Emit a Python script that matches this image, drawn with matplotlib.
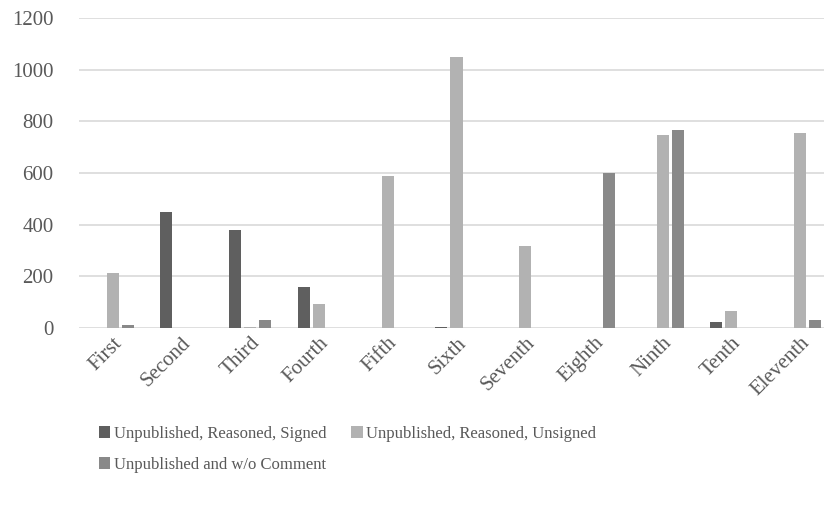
import numpy as np
import matplotlib.pyplot as plt

# Kategorien und Werte
categories = ["First", "Second", "Third", "Fourth", "Fifth", "Sixth",
              "Seventh", "Eighth", "Ninth", "Tenth", "Eleventh"]
signed = [0, 450, 380, 160, 0, 5, 0, 0, 0, 25, 0]
unsigned = [213, 0, 3, 92, 590, 1048, 318, 0, 748, 66, 755]
no_comment = [12, 0, 32, 0, 0, 0, 0, 600, 768, 0, 32]

series_names = ["Unpublished, Reasoned, Signed",
                "Unpublished, Reasoned, Unsigned",
                "Unpublished and w/o Comment"]
colors = ["#5f5f5f", "#b2b2b2", "#898989"]
text_color = "#595959"

plt.rcParams['font.family'] = ['Liberation Serif', 'DejaVu Serif']

fig = plt.figure(figsize=(8.24, 5.16), dpi=100)
ax = fig.add_axes([78.5 / 824, 1 - 328 / 516, 756 / 824, 310 / 516])

x = np.arange(len(categories))
width = 0.175
offset = 0.22
handles = []
for i, (vals, name) in enumerate(zip([signed, unsigned, no_comment], series_names)):
    h = ax.bar(x + (i - 1) * offset, vals, width, color=colors[i], label=name, zorder=3)
    handles.append(h)

ax.set_xlim(-0.5, len(categories) - 0.5)
ax.set_ylim(0, 1200)
ax.set_yticks(range(0, 1201, 200))
ax.grid(axis='y', color="#d9d9d9", linewidth=1.2, zorder=0)
for s in ax.spines.values():
    s.set_visible(False)
ax.tick_params(axis='both', length=0, labelsize=15, labelcolor=text_color)
ax.tick_params(axis='y', pad=18)
ax.set_xticks(x)
ax.set_xticklabels(categories, rotation=45, ha='right', rotation_mode='anchor')
ax.tick_params(axis='x', pad=4)

# Legende zeilenweise anordnen
fig.legend([handles[0], handles[2], handles[1]],
           [series_names[0], series_names[2], series_names[1]],
           ncol=2, loc='upper left', bbox_to_anchor=(92 / 824, 1 - 419 / 516),
           frameon=False, fontsize=12, labelcolor=text_color,
           handlelength=0.7, handleheight=0.7, handletextpad=0.2,
           columnspacing=1.5, labelspacing=0.9, borderaxespad=0)

fig.savefig("out.png", dpi=100)
